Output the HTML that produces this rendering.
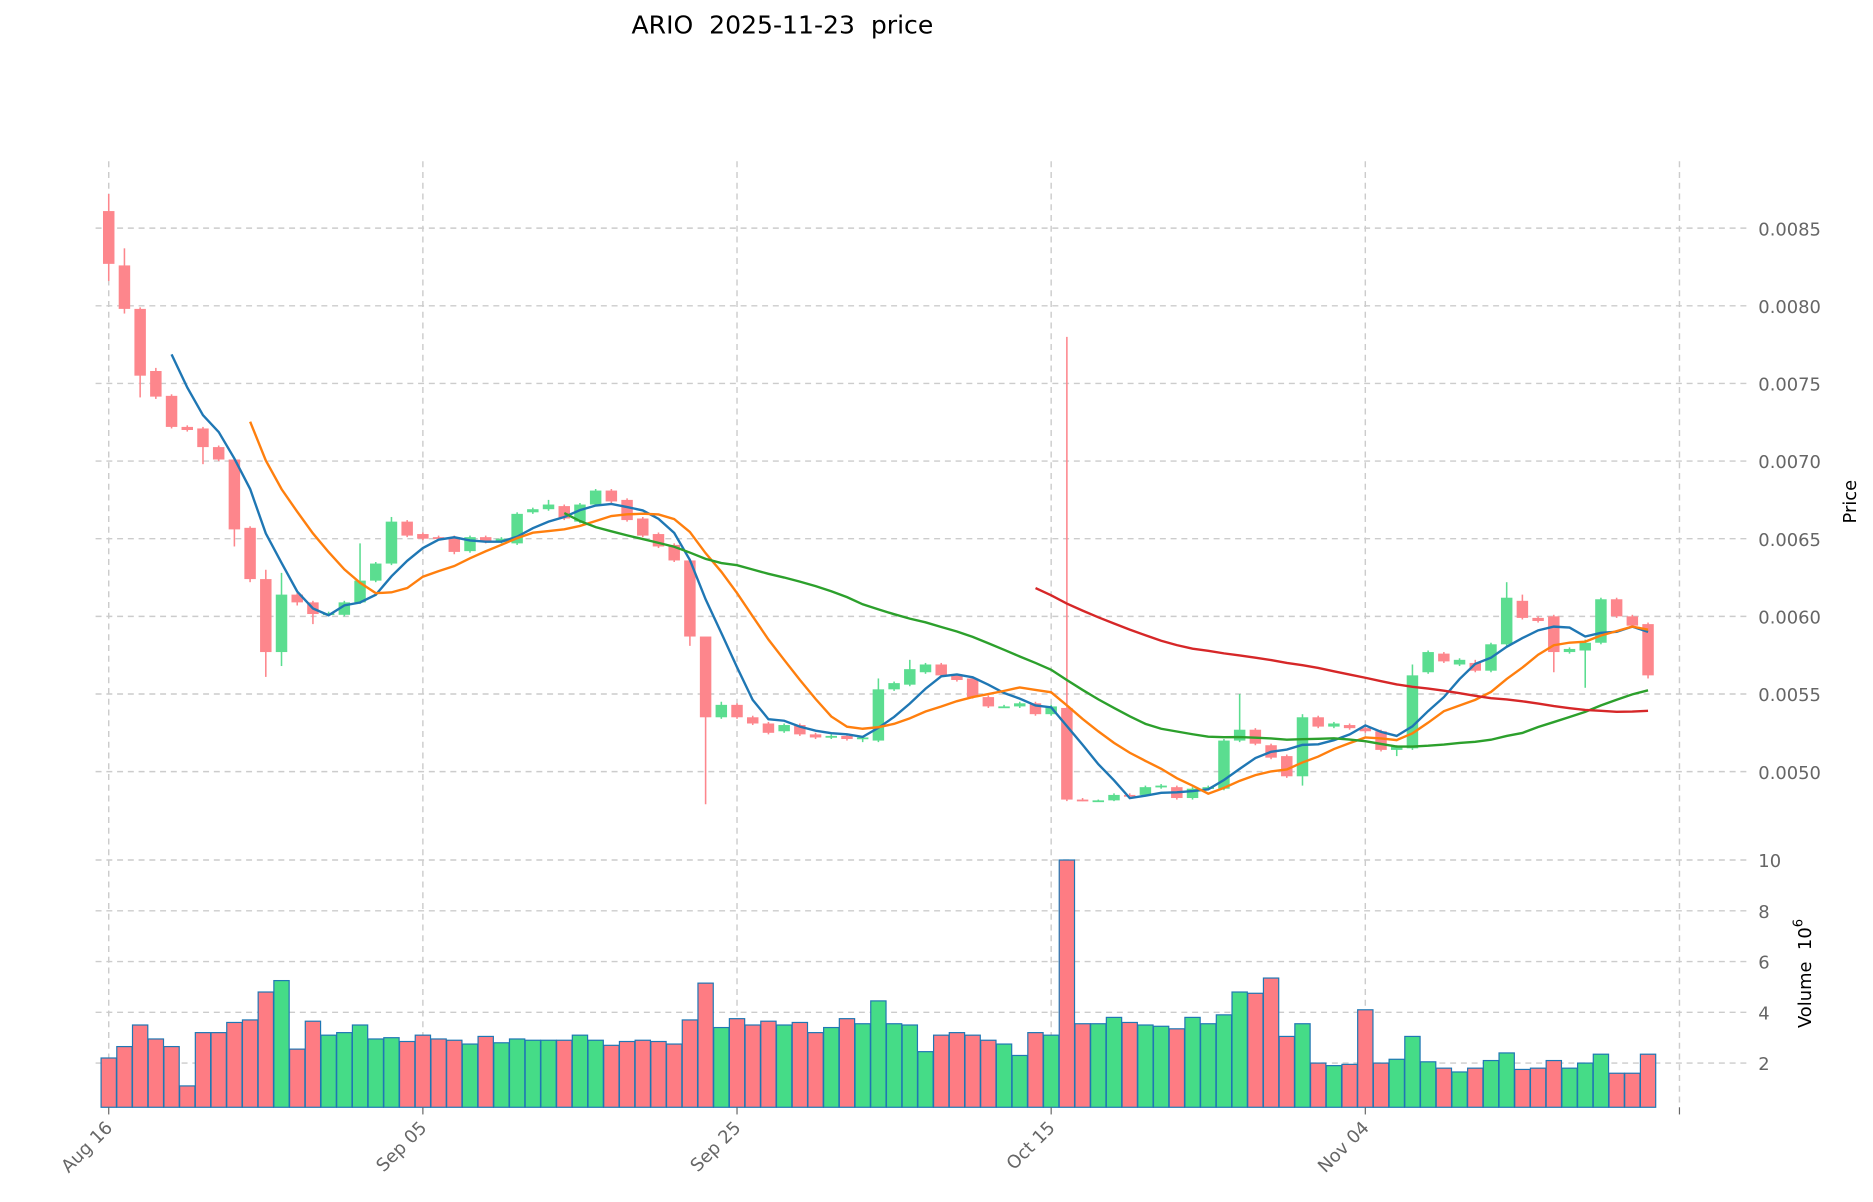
<!DOCTYPE html>
<html><head><meta charset="utf-8"><style>
html,body{margin:0;padding:0;background:#fff;}
svg{display:block;font-family:"DejaVu Sans","Liberation Sans",sans-serif;}
</style></head><body>
<svg id="chart" width="1873" height="1202" viewBox="0 0 1568 1006.3" xmlns="http://www.w3.org/2000/svg">
<text x="655" y="28" font-size="21" text-anchor="middle" fill="#000" style="white-space:pre" xml:space="preserve">ARIO  2025-11-23  price</text>
<g id="grid"></g><g id="vol"></g><g id="candles"></g><g id="mas"></g><g id="axes"></g>
<text transform="translate(1554,420) rotate(-90)" font-size="15" text-anchor="middle" fill="#000">Price</text>
<text transform="translate(1516,815) rotate(-90)" font-size="15" text-anchor="middle" fill="#000" style="white-space:pre" xml:space="preserve">Volume  10<tspan dy="-7" font-size="11">6</tspan></text>
</svg>
<script>
const opens=[861,826,798,758,742,722,721,709,701,657,624,577,614,609,601,601,609,623,634,661,653,651,651,642,651,648,647,667,669,671,661,672,681,675,663,653,646,636,587,535,543,535,531,526,530,524,522,523,521,520,553,556,564,569,562,560,548,542,542,544,537,541,482,481.5,481.5,485,485,490,490,483,489,489,520,527,517,510,497,535,529,530,528,526,514,515,564,576,569,570,565,582,610,599,600,577,578,583,611,600,595];
const closes=[827,798,755,741.5,722,720,709,701,656,624,577,614,609,601.5,602,609,623,634,661,652,650,650,641.5,651,648,650,666,669,672,663,672,681,674,662,652,645,636,587,535,543,535,531,525,530,524,522,523,521,522,553,557,566,569,562,559,548,542,542,544,537,542,482,481.5,481.5,485,484.5,490,491,483,489,490,520,527,518,509,497,535,529,531,528,526,514,516,562,577,571,572,565,582,612,599,597,577,579,583,611,600,594,562];
const highs=[872,837,799,760,743,723,722,710,702,658,630,628,615,610,603,610,647,635,664,662,654,652,652,652,652,651,667,670,675,672,673,682,682,676,664,654,647,637,581,545,544,536,532,531,531,525,524,524,523,560,558,572,570,570,563,561,549,543,545,545,543,780,483,482,486,486,491,492,491,490,491,521,550,528,518,511,537,536,532,531,529,527,517,569,578,577,573,572,583,622,614,600,601,580,585,612,612,601,596];
const lows=[816,795,741,740,721,719,698,700,645,622,561,568,607,595,600,600,608,622,633,651,649,649,640,641,647,647,646,666,668,662,660,671,673,661,651,644,635,581,479,534,534,530,524,525,523,521,521,520,519,519,552,555,563,561,558,547,541,541,541,536,536,481,481,481,481,483,484,489,482,482,488,488,519,517,508,496,491,528,528,527,525,513,510,514,563,570,568,564,564,581,598,596,564,576,554,582,599,593,560];
const volumes=[2.2,2.65,3.5,2.95,2.65,1.1,3.2,3.2,3.6,3.7,4.8,5.25,2.55,3.65,3.1,3.2,3.5,2.95,3.0,2.85,3.1,2.95,2.9,2.75,3.05,2.8,2.95,2.9,2.9,2.9,3.1,2.9,2.7,2.85,2.9,2.85,2.75,3.7,5.15,3.4,3.75,3.5,3.65,3.5,3.6,3.2,3.4,3.75,3.55,4.45,3.55,3.5,2.45,3.1,3.2,3.1,2.9,2.75,2.3,3.2,3.1,10,3.55,3.55,3.8,3.6,3.5,3.45,3.35,3.8,3.55,3.9,4.8,4.75,5.35,3.05,3.55,2.0,1.9,1.95,4.1,2.0,2.15,3.05,2.05,1.8,1.65,1.8,2.1,2.4,1.75,1.8,2.1,1.8,2.0,2.35,1.6,1.6,2.35];
const priceTicks=[0.0050,0.0055,0.0060,0.0065,0.0070,0.0075,0.0080,0.0085];
const volTicks=[2,4,6,8,10];
const dateLabels=["Aug 16","Sep 05","Sep 25","Oct 15","Nov 04"];
const dateIdx=[0,20,40,60,80,100];
const maPeriods=[5,10,30,60];
const maColors=["#1f77b4","#ff7f0e","#2ca02c","#d62728"];

const NS="http://www.w3.org/2000/svg";
const X=i=>91+i*13.15;
const Y=p=>646-(p-0.005)*130000;
const YV=v=>932.5-v*21.25;
function mk(t,a,parent){const e=document.createElementNS(NS,t);for(const k in a)e.setAttribute(k,a[k]);document.getElementById(parent).appendChild(e);return e;}
const P=v=>v/1e5;
for(const t of priceTicks){const l=mk('line',{x1:80,x2:1462,y1:Y(t),y2:Y(t),stroke:'#ccc','stroke-dasharray':'5,4','stroke-width':1.2},'grid');


const tx=mk('text',{x:1472,y:Y(t)+6,'font-size':15,fill:'#666'},'axes');tx.textContent=t.toFixed(4);

}
for(const t of volTicks){const l=mk('line',{x1:80,x2:1462,y1:YV(t),y2:YV(t),stroke:'#ccc','stroke-dasharray':'5,4','stroke-width':1.2},'grid');


const tx=mk('text',{x:1472,y:YV(t)+6,'font-size':15,fill:'#666'},'axes');tx.textContent=t;

}
dateIdx.forEach((d,k)=>{const x=X(d);
const l=mk('line',{x1:x,x2:x,y1:135,y2:927,stroke:'#ccc','stroke-dasharray':'5,4','stroke-width':1.2},'grid');


mk('line',{x1:x,x2:x,y1:927,y2:933,stroke:'#666'},'axes');
if(dateLabels[k]){const tx=mk('text',{x:x+4,y:945,'font-size':15,fill:'#666','text-anchor':'end',transform:`rotate(-45 ${x+4} 945)`},'axes');tx.textContent=dateLabels[k];

}});
volumes.forEach((v,i)=>{const up=closes[i]>=opens[i];
const r=mk('rect',{x:X(i)-6.4,y:YV(v),width:12.8,height:927-YV(v),fill:up?'#45dc87':'#fe7c83',stroke:'#1f77b4','stroke-width':1},'vol');

});
opens.forEach((o,i)=>{const c=closes[i],up=c>=o,col=up?'#5bdd90':'#fd868c';
const w=mk('line',{x1:X(i),x2:X(i),y1:Y(P(highs[i])),y2:Y(P(lows[i])),stroke:col,'stroke-width':1.3},'candles');


const t=Y(P(Math.max(o,c))),b=Y(P(Math.min(o,c)));
const r=mk('rect',{x:X(i)-4.8,y:t,width:9.6,height:Math.max(b-t,1.5),fill:col},'candles');

});
maPeriods.forEach((n,k)=>{let pts=[];for(let i=n-1;i<closes.length;i++){let s=0;for(let j=i-n+1;j<=i;j++)s+=closes[j];pts.push(X(i).toFixed(1)+','+Y(P(s/n)).toFixed(1));}
const pl=mk('polyline',{points:pts.join(' '),fill:'none',stroke:maColors[k],'stroke-width':2},'mas');

});
</script>
</body></html>
